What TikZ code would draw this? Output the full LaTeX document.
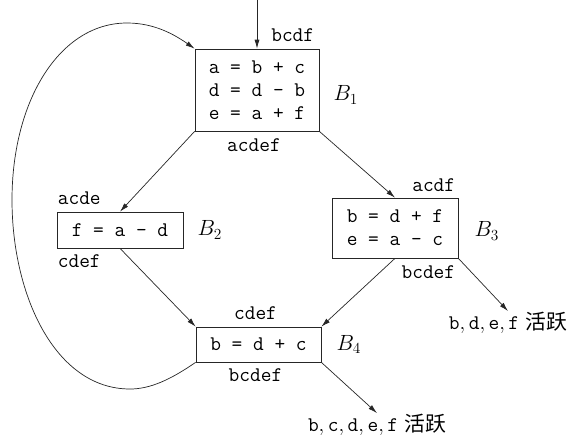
\RequirePackage{fix-cm}
\documentclass[tikz,border=0pt]{standalone}
\usepackage{fontspec}
\newfontfamily\cjk{Noto Sans CJK SC}
\usetikzlibrary{
  arrows.meta,
  positioning,
  calc
}
\tikzset{
  blockbox/.style={
    draw=black!85,
    line width=0.7pt,
    align=left,
    font=\fontsize{20.8}{23}\selectfont\ttfamily,
    inner sep=2pt
  },
  setlabel/.style={
    font=\fontsize{20.8}{23}\selectfont\ttfamily,
    inner sep=1pt
  },
  blocklabel/.style={
    font=\fontsize{22}{23}\selectfont,
    inner sep=1pt
  },
  livelabel/.style={
    font=\fontsize{20.8}{23}\selectfont,
    inner sep=1pt
  },
  flowarrow/.style={-{Latex[length=9pt,width=5pt]},line width=0.7pt,draw=black!85}
}

\begin{document}
\begin{tikzpicture}[x=1pt,y=-1pt]
  \useasboundingbox (0,0) rectangle (576,437);

  % basic blocks
  \node[blockbox, minimum width=124pt, minimum height=82pt] (b1) at (257,90) {a = b + c\\d = d - b\\e = a + f};
  \node[blockbox, minimum width=126pt, minimum height=36pt] (b2) at (120,230) {f = a - d};
  \node[blockbox, minimum width=126pt, minimum height=60pt] (b3) at (395,228) {b = d + f\\e = a - c};
  \node[blockbox, minimum width=125pt, minimum height=35pt] (b4) at (258.5,344.5) {b = d + c};

  % block names
  \node[blocklabel, right=13pt of b1, yshift=-5pt] (b1name) {$B_1$};
  \node[blocklabel, right=13pt of b2] (b2name) {$B_2$};
  \node[blocklabel, right=15pt of b3, yshift=-3pt] (b3name) {$B_3$};
  \node[blocklabel, right=14pt of b4] (b4name) {$B_4$};

  % live variables at entry / exit
  \node[setlabel, above left=6pt and 4pt of b1.north east] (b1in) {bcdf};
  \node[setlabel, below=6pt of b1.south, xshift=-3pt] (b1out) {acdef};
  \node[setlabel, above right=6pt and 0pt of b2.north west] (b2in) {acde};
  \node[setlabel, below right=5pt and 0pt of b2.south west] (b2out) {cdef};
  \node[setlabel, above left=5pt and 2pt of b3.north east] (b3in) {acdf};
  \node[setlabel, below left=6pt and 2pt of b3.south east] (b3out) {bcdef};
  \node[setlabel, above=6pt of b4.north, xshift=-3pt] (b4in) {cdef};
  \node[setlabel, below=5pt of b4.south, xshift=-3pt] (b4out) {bcdef};

  \node[livelabel] (live3) at (508,323) {$\mathtt{b},\mathtt{d},\mathtt{e},\mathtt{f}$ {\cjk 活跃}};
  \node[livelabel] (live4) at (377,425) {$\mathtt{b},\mathtt{c},\mathtt{d},\mathtt{e},\mathtt{f}$ {\cjk 活跃}};

  % edges
  \coordinate (entry) at (257,0);
  \draw[flowarrow] (entry) -- (b1.north);
  \draw[flowarrow] (b1.south west) -- (b2.north);
  \draw[flowarrow] (b1.south east) -- (b3.north);
  \draw[flowarrow] (b2.south) -- (b4.north west);
  \draw[flowarrow] (b3.south) -- (b4.north east);
  \draw[flowarrow] (b3.south east) -- (live3.north);
  \draw[flowarrow] (b4.south east) -- (live4.north);

  % back edge B4 -> B1
  \coordinate (loopbottom) at (130,389);
  \coordinate (loopleft) at (12,200);
  \coordinate (looptop) at (127,23);
  \draw[flowarrow] (b4.south west) .. controls (170,380) and (150,389) .. (loopbottom)
    .. controls (55,389) and (12,295) .. (loopleft)
    .. controls (12,100) and (60,23) .. (looptop)
    .. controls (155,23) and (175,35) .. (b1.north west);
\end{tikzpicture}
\end{document}
